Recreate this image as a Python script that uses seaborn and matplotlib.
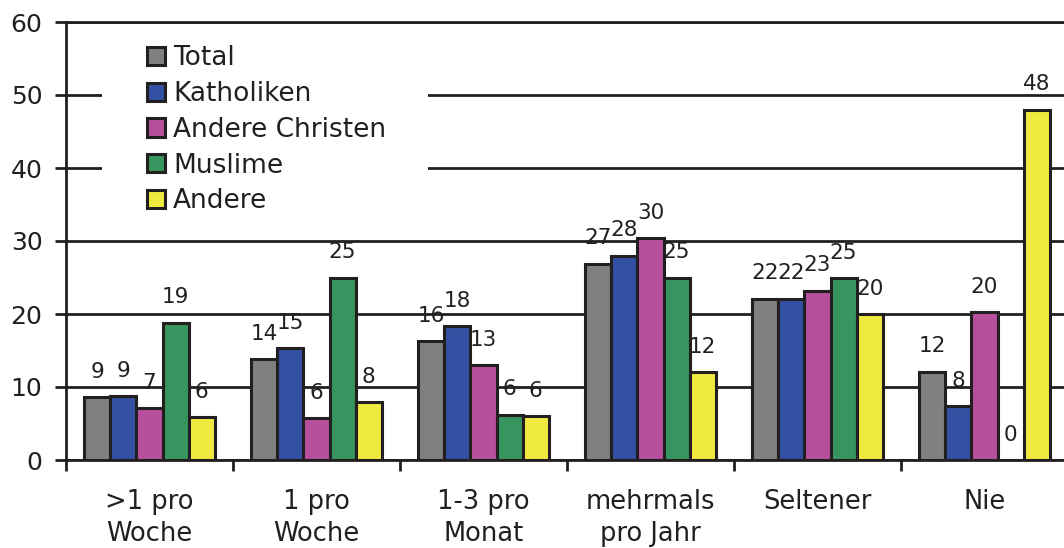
import pandas as pd
import seaborn as sns
import matplotlib.pyplot as plt
from matplotlib.patches import Rectangle

# === Données ===
categories = [">1 pro\nWoche", "1 pro\nWoche", "1-3 pro\nMonat",
              "mehrmals\npro Jahr", "Seltener", "Nie"]
series = ["Total", "Katholiken", "Andere Christen", "Muslime", "Andere"]

total = [8.6, 13.8, 16.3, 26.9, 22.1, 12.1]
katholiken = [8.7, 15.3, 18.3, 28.0, 22.1, 7.4]
andere_christen = [7.1, 5.7, 13.0, 30.4, 23.2, 20.3]
muslime = [18.8, 25.0, 6.2, 25.0, 24.9, 0.0]
andere = [5.9, 7.9, 6.0, 12.0, 20.0, 48.0]

# labels as printed on the chart
labels_total = ["9", "14", "16", "27", "22", "12"]
labels_kath = ["9", "15", "18", "28", "22", "8"]
labels_chr = ["7", "6", "13", "30", "23", "20"]
labels_mus = ["19", "25", "6", "25", "25", "0"]
labels_and = ["6", "8", "6", "12", "20", "48"]

colors = ["#808080", "#3350A3", "#B5509F", "#37955F", "#F0E93F"]
text_col = "#231F20"

rows = []
for name, vals in zip(series, [total, katholiken, andere_christen, muslime, andere]):
    for cat, v in zip(categories, vals):
        rows.append({"Kategorie": cat, "Gruppe": name, "Wert": v})
df = pd.DataFrame(rows)

sns.set_style("white")
plt.rcParams["font.family"] = ["DejaVu Sans"]

fig = plt.figure(figsize=(10.64, 5.48), dpi=100)
ax = fig.add_axes([66 / 1064, 88 / 548, 1002 / 1064, 438 / 548])

sns.barplot(data=df, x="Kategorie", y="Wert", hue="Gruppe", order=categories,
            hue_order=series, palette=colors, width=0.78, errorbar=None,
            edgecolor=text_col, linewidth=2.2, saturation=1, ax=ax)

# Étiquettes des barres
all_labels = [labels_total, labels_kath, labels_chr, labels_mus, labels_and]
for cont, labs in zip(ax.containers, all_labels):
    ax.bar_label(cont, labels=labs, padding=11, fontsize=15.5, color=text_col)

# Axes
ax.set_ylim(0, 60)
ax.set_xlim(-0.5, 5.5)
ax.set_yticks(range(0, 61, 10))
ax.yaxis.grid(True, color=text_col, linewidth=2)
ax.set_axisbelow(True)
ax.set_xlabel("")
ax.set_ylabel("")

for side in ["left", "bottom", "top"]:
    ax.spines[side].set_visible(True)
    ax.spines[side].set_color(text_col)
    ax.spines[side].set_linewidth(2)
ax.spines["right"].set_visible(False)

ax.tick_params(axis="y", direction="out", length=8, width=2, color=text_col,
               labelsize=18, labelcolor=text_col, pad=9, left=True)
ax.set_xticks(range(len(categories)))
ax.set_xticklabels(categories, fontsize=18.5, color=text_col, linespacing=1.3)
ax.tick_params(axis="x", length=0, pad=21)
ax.set_xticks([i - 0.5 for i in range(len(categories) + 1)], minor=True)
ax.tick_params(axis="x", which="minor", direction="out", length=8, width=2,
               color=text_col, bottom=True)

# Légende (fond blanc plus large que le texte)
ax.add_patch(Rectangle((0.036, 0.53), 0.325, 0.45, transform=ax.transAxes,
                       facecolor="white", edgecolor="none", zorder=1.5))
handles, leg_labels = ax.get_legend_handles_labels()
leg = ax.legend(handles, leg_labels, loc="upper left",
                bbox_to_anchor=(0.081, 0.947), fontsize=19, frameon=False,
                handlelength=0.68, handleheight=0.68, handletextpad=0.3,
                labelspacing=0.37, borderpad=0, borderaxespad=0)
for t in leg.get_texts():
    t.set_color(text_col)

fig.savefig("out.png", dpi=100)
